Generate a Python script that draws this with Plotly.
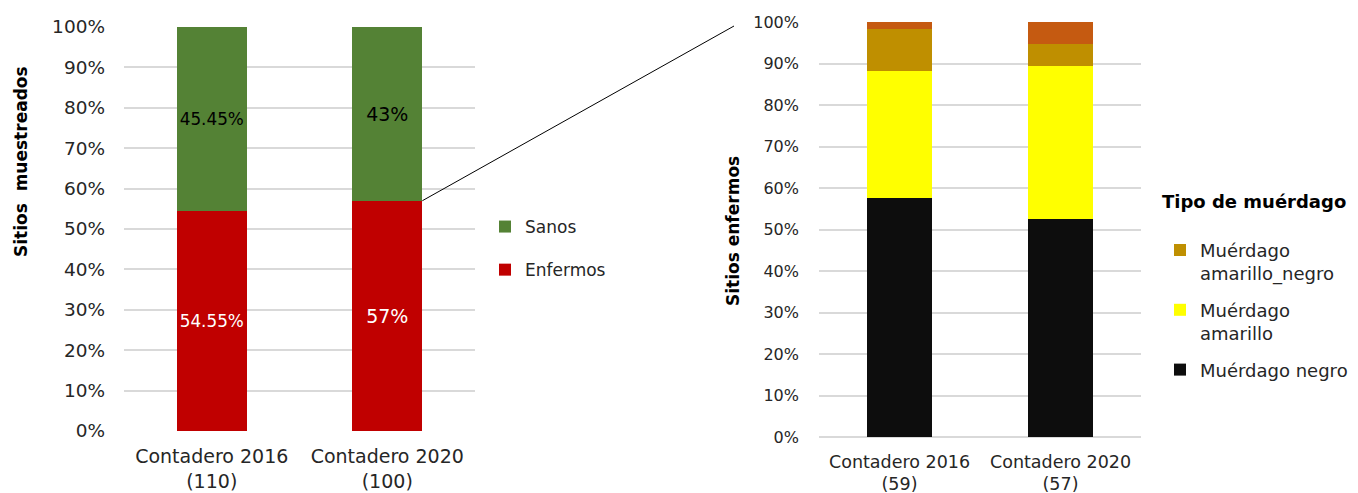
import plotly.graph_objects as go

# Left panel: sampled sites, healthy vs. diseased
sitios_cats = ["Contadero 2016<br>(110)", "Contadero 2020<br>(100)"]
enfermos = [54.55, 57]
sanos = [45.45, 43]
enfermos_labels = ["54.55%", "57%"]
sanos_labels = ["45.45%", "43%"]

# Right panel: diseased sites by mistletoe type
enf_cats = ["Contadero 2016<br>(59)", "Contadero 2020<br>(57)"]
negro = [57.6, 52.6]
amarillo = [30.5, 36.9]
amarillo_negro = [10.2, 5.3]
otros = [1.7, 5.2]

y_ticks = list(range(0, 101, 10))
y_tick_text = [f"{v}%" for v in y_ticks]

FONT = "DejaVu Sans, Verdana, sans-serif"
W, H = 1358, 493

# subplot domains (paper fractions)
left_x = [124 / W, 475 / W]
left_y = [1 - 431 / H, 1 - 27 / H]
right_x = [819 / W, 1141 / W]
right_y = [1 - 437 / H, 1 - 22 / H]

fig = go.Figure()

fig.add_trace(go.Bar(
    x=sitios_cats, y=enfermos, name="Enfermos", marker_color="#C00000",
    text=enfermos_labels, textposition="inside", insidetextanchor="middle",
    textfont=dict(color="white", size=19, family=FONT), textangle=0,
    xaxis="x", yaxis="y", legend="legend", legendgroup="enf", legendrank=2,
))
fig.add_trace(go.Bar(
    x=sitios_cats, y=sanos, name="Sanos", marker_color="#548235",
    text=sanos_labels, textposition="inside", insidetextanchor="middle",
    textfont=dict(color="black", size=19, family=FONT), textangle=0,
    xaxis="x", yaxis="y", legend="legend", legendgroup="san", legendrank=1,
))

fig.add_trace(go.Bar(
    x=enf_cats, y=negro, name="Muérdago negro", marker_color="#0D0D0D",
    xaxis="x2", yaxis="y2", legend="legend2", legendgroup="neg", legendrank=3,
))
fig.add_trace(go.Bar(
    x=enf_cats, y=amarillo, name="Muérdago<br>amarillo", marker_color="#FFFF00",
    xaxis="x2", yaxis="y2", legend="legend2", legendgroup="ama", legendrank=2,
))
fig.add_trace(go.Bar(
    x=enf_cats, y=amarillo_negro, name="Muérdago<br>amarillo_negro",
    marker_color="#BF8F00",
    xaxis="x2", yaxis="y2", legend="legend2", legendgroup="amn", legendrank=1,
))
fig.add_trace(go.Bar(
    x=enf_cats, y=otros, name="Otros", marker_color="#C55A11",
    xaxis="x2", yaxis="y2", showlegend=False,
))

for tr in fig.data:
    tr.marker.line.width = 0

grid = "#D9D9D9"
fig.update_layout(
    width=W, height=H,
    margin=dict(l=0, r=0, t=0, b=0, autoexpand=False),
    paper_bgcolor="white", plot_bgcolor="white",
    barmode="stack", bargap=0.6,
    font=dict(family=FONT, color="#262626"),
    showlegend=True,
    xaxis=dict(domain=left_x, anchor="y", showgrid=False, ticks="",
               tickfont=dict(size=19), ticklabelstandoff=12,
               range=[-0.5, 1.5], automargin=False),
    yaxis=dict(domain=left_y, anchor="x", range=[0, 100],
               tickvals=y_ticks, ticktext=y_tick_text,
               showgrid=True, gridcolor=grid, gridwidth=1.6,
               zeroline=False, tickfont=dict(size=18.5),
               ticklabelstandoff=18, automargin=False),
    xaxis2=dict(domain=right_x, anchor="y2", showgrid=False, ticks="",
                tickfont=dict(size=17.5), ticklabelstandoff=12,
                range=[-0.5, 1.5], automargin=False),
    yaxis2=dict(domain=right_y, anchor="x2", range=[0, 100],
                tickvals=y_ticks, ticktext=y_tick_text,
                showgrid=True, gridcolor=grid, gridwidth=1.6,
                zeroline=True, zerolinecolor=grid, zerolinewidth=1.6,
                tickfont=dict(size=16), ticklabelstandoff=19,
                automargin=False),
    legend=dict(x=485 / W, y=1 - 209 / H, xanchor="left", yanchor="top",
                traceorder="grouped", tracegroupgap=18,
                font=dict(size=17), bgcolor="rgba(0,0,0,0)"),
    legend2=dict(x=1160 / W, y=1 - 185 / H, xanchor="left", yanchor="top",
                 traceorder="grouped", tracegroupgap=10,
                 valign="top",
                 title=dict(text="<b>Tipo de muérdago</b><br> ",
                            font=dict(size=18, color="black")),
                 font=dict(size=18), bgcolor="rgba(0,0,0,0)"),
)

# axis titles
fig.add_annotation(text="<b>Sitios  muestreados</b>", textangle=-90,
                   xref="paper", yref="paper", x=21 / W, y=1 - 162 / H,
                   xanchor="center", yanchor="middle",
                   showarrow=False, font=dict(size=17, color="black"))
fig.add_annotation(text="<b>Sitios enfermos</b>", textangle=-90,
                   xref="paper", yref="paper", x=733 / W, y=1 - 231 / H,
                   xanchor="center", yanchor="middle",
                   showarrow=False, font=dict(size=17, color="black"))

# connector from the top of the 2020 diseased bar to the detail panel
half_bar = (1 - 0.6) / 2
x_start = left_x[0] + (1 + half_bar + 0.5) / 2 * (left_x[1] - left_x[0])
y_start = left_y[0] + enfermos[1] / 100 * (left_y[1] - left_y[0])
x_end = right_x[0] - 85 / W
y_end = right_y[1] - 4 / H
fig.add_shape(type="line", xref="paper", yref="paper",
              x0=x_start, y0=y_start, x1=x_end, y1=y_end,
              line=dict(color="black", width=1))

fig.write_html("out.html")
